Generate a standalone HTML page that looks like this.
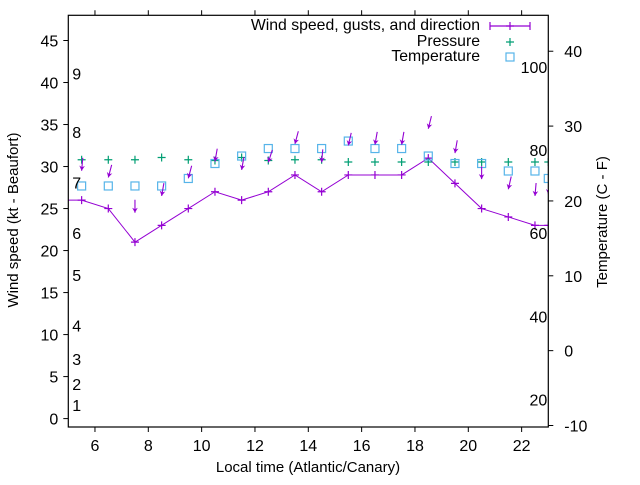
<!DOCTYPE html>
<html><head><meta charset="utf-8"><style>
html,body{margin:0;padding:0;background:#fff;}
svg text{font-family:"Liberation Sans",sans-serif;fill:#000;}
</style></head><body>
<svg id="chart" width="640" height="480" viewBox="0 0 640 480" xmlns="http://www.w3.org/2000/svg">
<rect width="640" height="480" fill="#fff"/>
<g id="marks"></g>
<g id="axes"></g>
</svg>
<script>
const hours = [5.5,6.5,7.5,8.5,9.5,10.5,11.5,12.5,13.5,14.5,15.5,16.5,17.5,18.5,19.5,20.5,21.5,22.5,23];
const windSpeed = [26,25,21,23,25,27,26,27,29,27,29,29,29,31,28,25,24,23,23];
const gusts = [29.5,28.7,24.5,26.5,28.6,30.6,29.6,30.5,32.7,30.5,32.5,32.6,32.6,34.5,31.6,28.5,27.3,26.5,26.7];
const windDir = [5,15,0,10,15,10,10,18,15,5,13,10,10,14,10,0,13,5,5];
const pressure = [1025.5,1025.5,1025.5,1025.8,1025.5,1025.4,1025.8,1025.4,1025.5,1025.5,1025.2,1025.2,1025.2,1025.2,1025.2,1025.2,1025.2,1025.2,1025.2];
const temperature = [22,22,22,22,23,25,26,27,27,27,28,27,27,26,25,25,24,24,23];
const xTicks = [6,8,10,12,14,16,18,20,22];
const yTicks = [0,5,10,15,20,25,30,35,40,45];
const tempTicks = [-10,0,10,20,30,40];
const beaufortPos = [1,2,3,4,5,6,7,8,9];
const beaufortKt = [1,3.5,6.5,10.5,16.5,21.5,27.5,33.5,40.5];
const fahrenheitLabels = [20,40,60,80,100];

const L=68.3,R=548.3,T=15.3,B=427;
const xs = h => L + (h-5)/(23-5)*(R-L);
const ys = v => B - (v-(-1))/(48-(-1))*(B-T);
const yt = c => B - (c-(-10.2))/(44.8-(-10.2))*(B-T);
const NS="http://www.w3.org/2000/svg";
function mk(tag, attrs, parent){const e=document.createElementNS(NS,tag);for(const k in attrs)e.setAttribute(k,attrs[k]);parent.appendChild(e);return e;}
const marks=document.getElementById('marks'), axes=document.getElementById('axes');
const clip=mk('clipPath',{id:'pc'},marks);mk('rect',{x:L,y:T,width:R-L,height:B-T},clip);
const plot=mk('g',{'clip-path':'url(#pc)'},marks);

let d='M'+L+','+ys(windSpeed[0]);
hours.forEach((h,i)=>{d+=' L'+xs(h)+','+ys(windSpeed[i]);});
const wl=mk('path',{d:d,fill:'none',stroke:'#9400d3','stroke-width':1},plot);


function plus(x,y,c,p,s){mk('path',{d:`M${x-s},${y}H${x+s}M${x},${y-s}V${y+s}`,stroke:c,'stroke-width':1.2},p);}
hours.forEach((h,i)=>{
  const g=mk('g',{},plot);
  
  
  plus(xs(h),ys(windSpeed[i]),'#9400d3',g,4);
  const pg=mk('g',{},plot);
  
  
  plus(xs(h),yt(pressure[i]-1000),'#009e73',pg,4);
  const tr=mk('rect',{x:xs(h)-4,y:yt(temperature[i])-4,width:8,height:8,fill:'none',stroke:'#56b4e9','stroke-width':1.2},plot);
  
  
  const hx=xs(h), hy=ys(gusts[i]);
  const a=windDir[i]*Math.PI/180, len=13;
  const tx=hx+Math.sin(a)*len, ty=hy-Math.cos(a)*len;
  const ag=mk('g',{},plot);
  
  
  mk('line',{x1:tx,y1:ty,x2:hx,y2:hy,stroke:'#9400d3','stroke-width':1.1},ag);
  const ux=(hx-tx)/len, uy=(hy-ty)/len, px=-uy, py=ux;
  mk('path',{d:`M${hx},${hy}L${hx-ux*5+px*2.8},${hy-uy*5+py*2.8}L${hx-ux*3.5},${hy-uy*3.5}L${hx-ux*5-px*2.8},${hy-uy*5-py*2.8}Z`,fill:'#9400d3'},ag);
});

const fr=mk('rect',{x:L,y:T,width:R-L,height:B-T,fill:'none',stroke:'#000','stroke-width':1.2},axes);


function txt(x,y,s,anchor,size,p,name){const t=mk('text',{x:x,y:y,'text-anchor':anchor,'font-size':size},p);t.textContent=s;return t;}
xTicks.forEach(v=>{const x=xs(v);mk('path',{d:`M${x},${B}V${B+5}M${x},${T}V${T-5}`,stroke:'#000'},axes);txt(x,B+24,String(v),'middle',16,axes,'x-tick-label');});
yTicks.forEach(v=>{const y=ys(v);mk('path',{d:`M${L},${y}H${L-5}`,stroke:'#000'},axes);txt(L-10,y+6,String(v),'end',16,axes,'y-tick-label');});
tempTicks.forEach(v=>{const y=yt(v);mk('path',{d:`M${R},${y}H${R+5}`,stroke:'#000'},axes);txt(R+16,y+6,String(v),'start',16,axes,'temperature-tick-label');});
beaufortPos.forEach((b,i)=>{txt(L+4,ys(beaufortKt[i])+1,String(b),'start',16,axes,'beaufort-label');});
fahrenheitLabels.forEach(f=>{txt(R-1,yt((f-32)*5/9)+5,String(f),'end',16,axes,'fahrenheit-label');});
txt(308,472,'Local time (Atlantic/Canary)','middle',15,axes,'x-axis-title');
const yl=txt(0,0,'Wind speed (kt - Beaufort)','middle',15,axes,'y-axis-title');yl.setAttribute('transform','translate(18,220) rotate(-90)');
const yr=txt(0,0,'Temperature (C - F)','middle',15,axes,'y2-axis-title');yr.setAttribute('transform','translate(607,222) rotate(-90)');

const lg=mk('g',{},axes);


txt(480,30,'Wind speed, gusts, and direction','end',15.8,lg,'legend-wind');
txt(480,46,'Pressure','end',15.8,lg,'legend-pressure');
txt(480,61,'Temperature','end',15.8,lg,'legend-temperature');
mk('path',{d:'M490,26H530M490,22V30M530,22V30',stroke:'#9400d3','stroke-width':1.2},lg);
plus(510,26,'#9400d3',lg,4);
plus(510,42,'#009e73',lg,4);
mk('rect',{x:506,y:53,width:8,height:8,fill:'none',stroke:'#56b4e9','stroke-width':1.2},lg);
</script>
</body></html>
